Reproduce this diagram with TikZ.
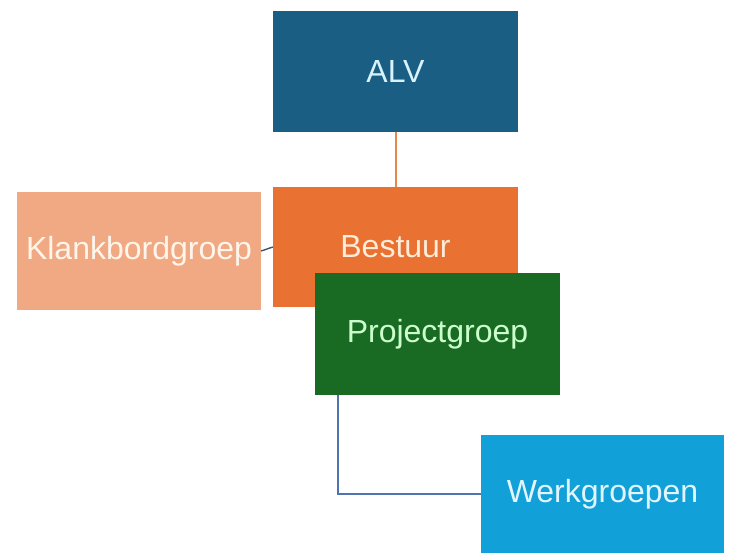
\documentclass[tikz,border=0pt]{standalone}
\usepackage{fontspec}
\setmainfont{Liberation Sans}
\definecolor{alvblue}{HTML}{1A5E83}
\definecolor{bestorange}{HTML}{E97132}
\definecolor{klanklight}{HTML}{F1A983}
\definecolor{projgreen}{HTML}{196B24}
\definecolor{werkblue}{HTML}{12A0D8}
\definecolor{lineorange}{HTML}{E8884F}
\definecolor{lineblue}{HTML}{4F74B0}
\definecolor{linedark}{HTML}{44546A}
\begin{document}
\begin{tikzpicture}[x=1pt,y=-1pt,
  orgbox/.style={rectangle, inner sep=0pt, minimum width=245pt, minimum height=120pt,
    font=\fontsize{32}{38}\selectfont},
  conn/.style={line width=2pt}]
\useasboundingbox (0,0) rectangle (730,553);
\fill[white] (0,0) rectangle (730,553);
\node[orgbox, fill=alvblue, text=white!85!cyan, minimum height=121pt] (alv) at (395.5,71.5) {ALV};
\node[orgbox, fill=bestorange, text=orange!15!white] (bs) at (395.5,247) {Bestuur};
\node[orgbox, fill=klanklight, text=white!92!orange, minimum width=244pt, minimum height=118pt] (kb) at (139,251) {Klankbordgroep};
\draw[conn, lineorange] (alv.south) -- (bs.north);
\draw[line width=1.4pt, linedark] (kb.east) -- (bs.west);
\node[orgbox, fill=projgreen, text=green!20!white, minimum height=122pt] (pg) at (437.5,334) {Projectgroep};
\node[orgbox, fill=werkblue, text=cyan!12!white, minimum width=243pt, minimum height=118pt] (wg) at (602.5,494) {Werkgroepen};
\draw[conn, lineblue] ([xshift=23pt]pg.south west) |- (wg.west);
\end{tikzpicture}
\end{document}
